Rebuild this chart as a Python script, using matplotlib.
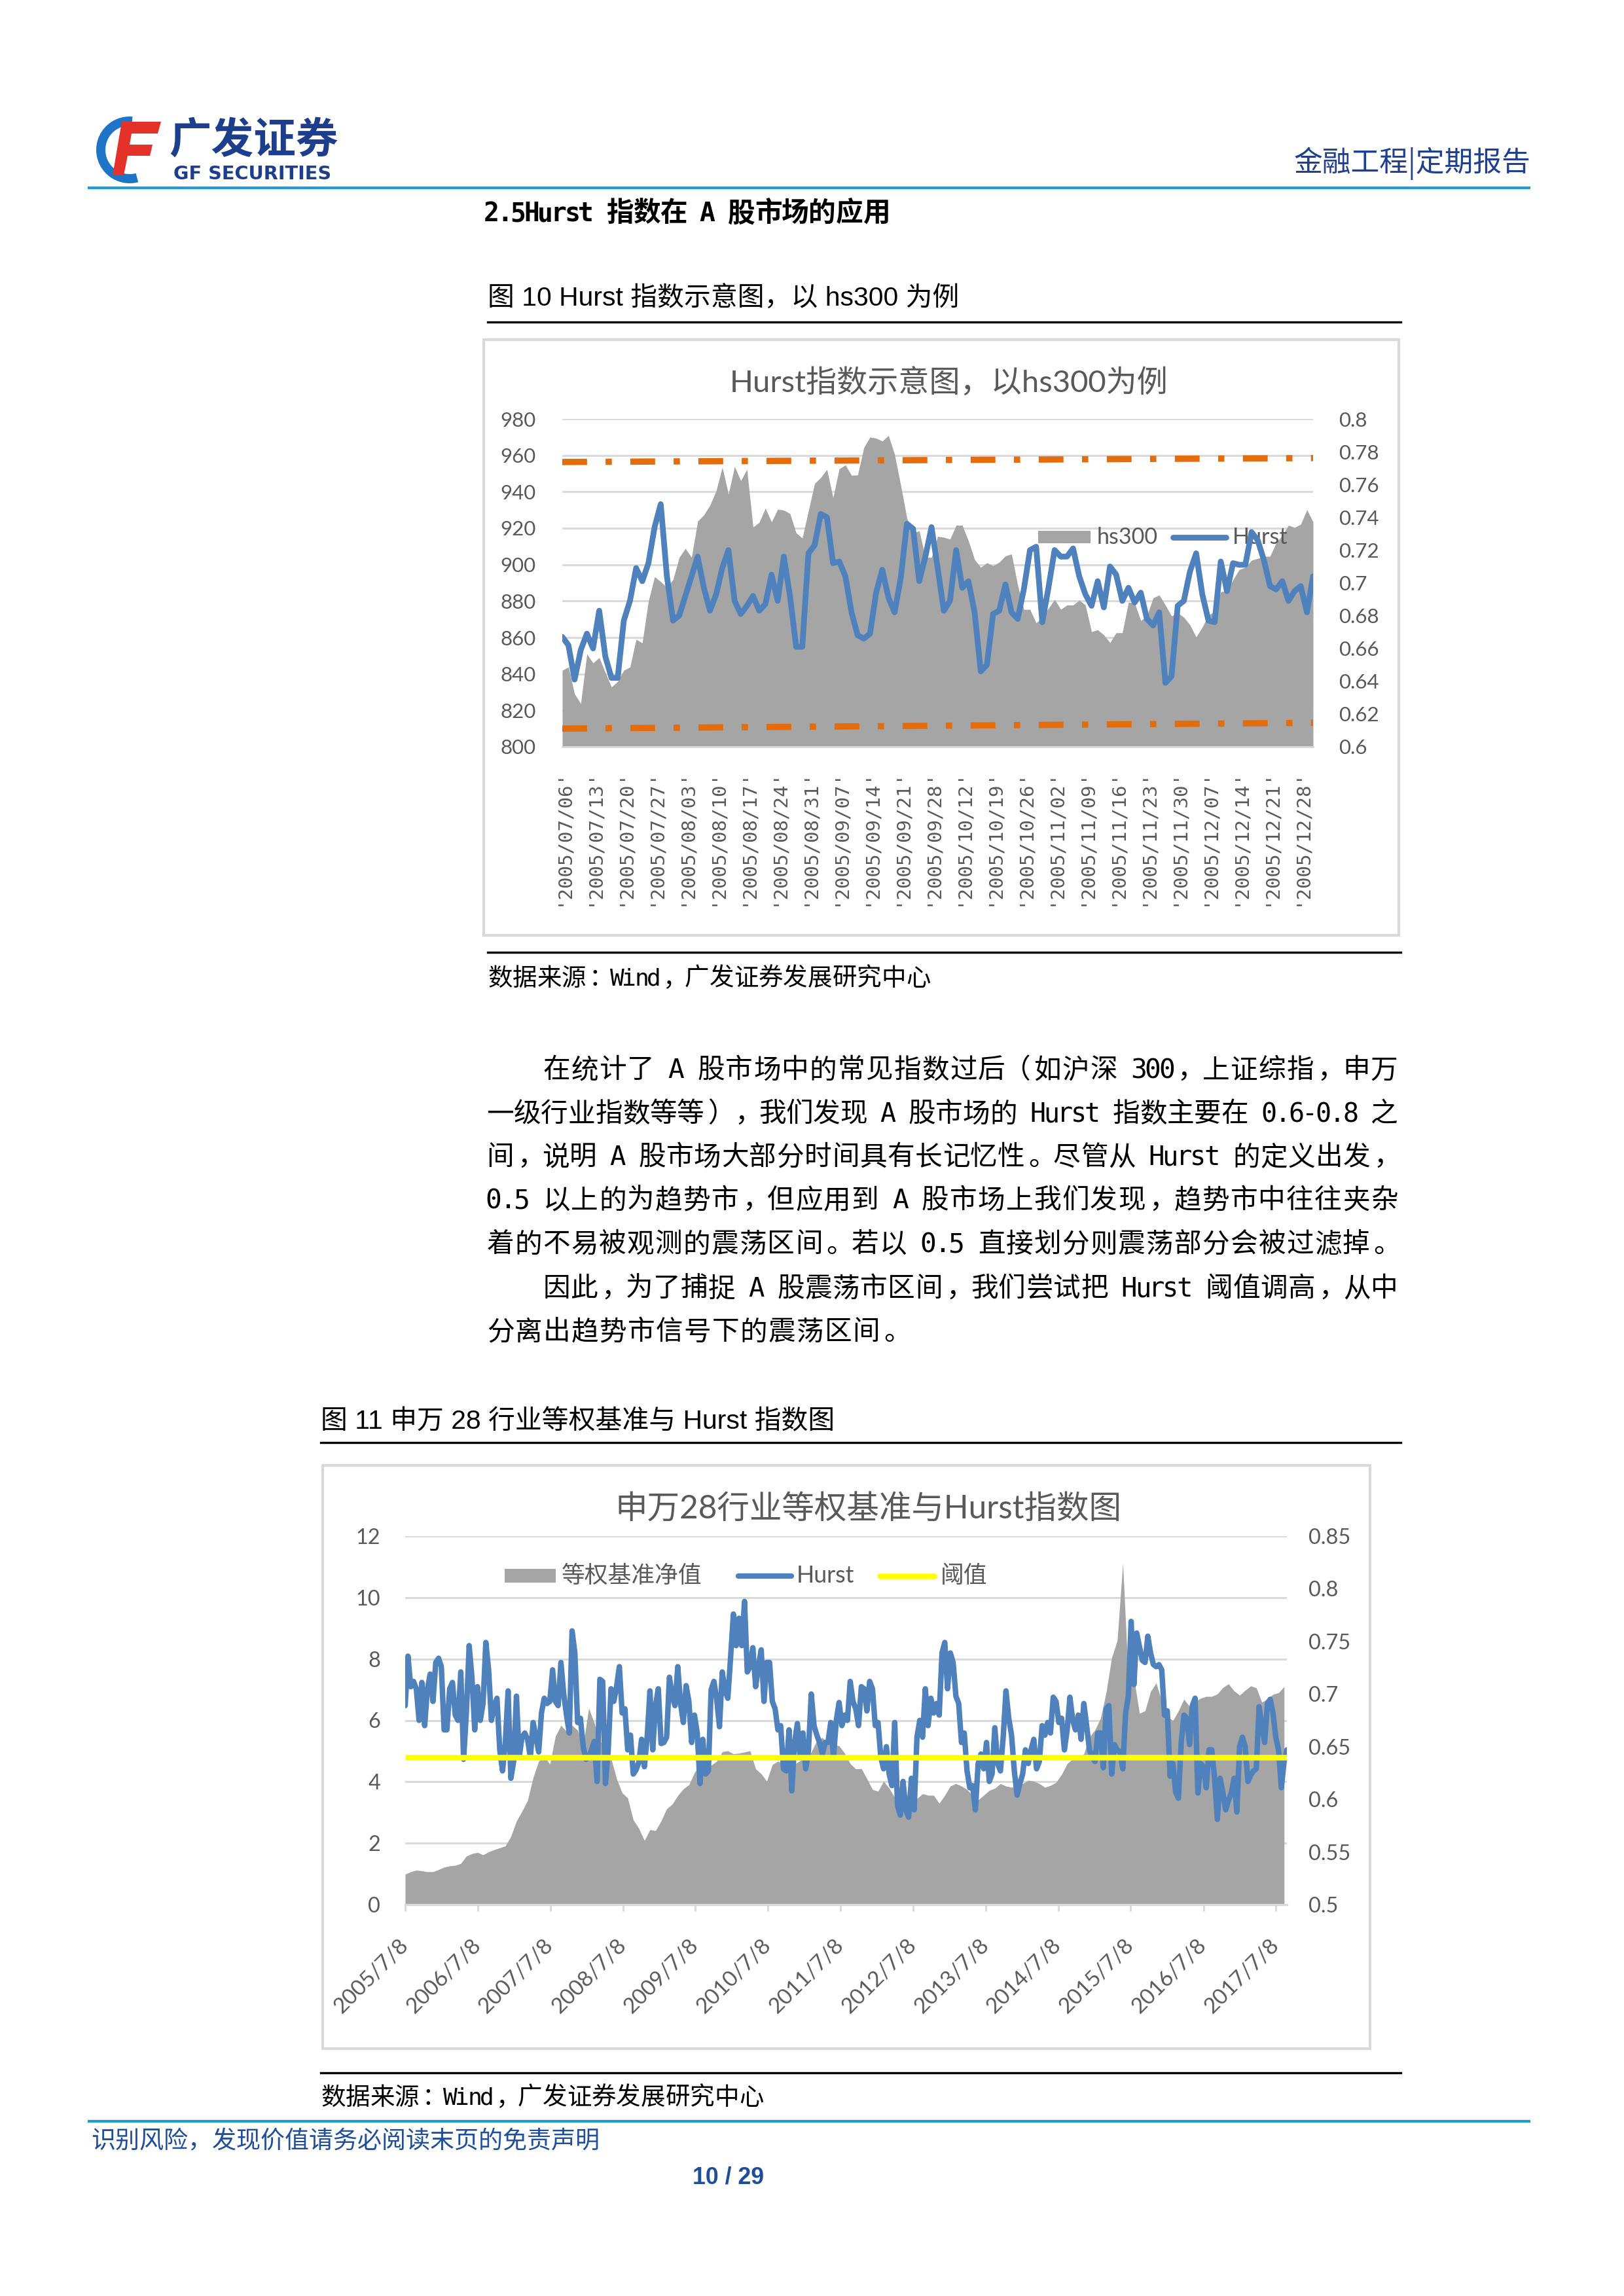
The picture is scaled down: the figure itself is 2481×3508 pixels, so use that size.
import matplotlib
matplotlib.use("Agg")
import matplotlib.pyplot as plt
import numpy as np
import pandas as pd
from matplotlib.lines import Line2D
from matplotlib.patches import Polygon, Rectangle, Wedge

plt.rcParams['font.family'] = ['Lato', 'Noto Sans CJK SC', 'DejaVu Sans']

W, H, DPI = 2481, 3508, 300
CJK = ['Noto Sans CJK SC', 'DejaVu Sans']
MIX = ['Lato', 'Noto Sans CJK SC']
CAP = ['Liberation Sans', 'Noto Sans CJK SC']
MONO = 'DejaVu Sans Mono'
GRAY_TXT = '#595959'
GRID = '#D9D9D9'
AREA = '#A5A5A5'
BLUE = '#4F81BD'
ORANGE = '#E46C0A'
YELLOW = '#FFFF00'
NAVY = '#1F3F8F'
LINE_BLUE = '#1B9BD7'

# ---- figure 10: hs300 daily close and Hurst index, 2005/07/06 - 2005/12/30
hs300 = [842, 843.8, 829, 823.7, 851, 846, 849, 840.7, 832.8, 835.9,
         842, 843.8, 859, 857, 880, 893.4, 890.6, 887.6, 891.8, 904,
         908.9, 904, 923.8, 927.3, 932.6, 940.5, 953.5, 938.7, 953.9, 946,
         952.3, 920.6, 923.2, 931, 923.4, 930.4, 929.9, 928, 917.4, 914.6,
         929.5, 944.5, 947.8, 952.3, 936.8, 952.6, 954.7, 949, 949.2, 964.2,
         970, 969.4, 967.8, 970.9, 960.5, 943.5, 925.5, 917.4, 918.6, 904,
         904, 915.5, 915, 914, 921.6, 921.6, 913, 902.8, 898.5, 901,
         899.4, 901.3, 904.8, 905.8, 888.8, 875.4, 875.4, 868, 871, 876,
         880.9, 875.4, 877.8, 877.8, 880.5, 877.8, 863.2, 864.2, 861.4, 857.2,
         862.6, 862.6, 879.3, 879, 869.3, 871.8, 881.7, 883.3, 877.8, 871.8,
         873.6, 871.1, 866.9, 860.2, 865.7, 872.4, 874.2, 885.1, 885.7, 891.8,
         897.3, 898.5, 902.4, 903.4, 904.4, 904.6, 911.9, 916.1, 921.6, 920.4,
         922.2, 930.1, 923.4]
hurst1 = [0.667, 0.662, 0.641, 0.659, 0.669, 0.660, 0.683, 0.655, 0.642, 0.642,
          0.677, 0.689, 0.709, 0.701, 0.712, 0.734, 0.748, 0.704, 0.677, 0.680,
          0.692, 0.704, 0.716, 0.697, 0.683, 0.693, 0.709, 0.720, 0.689, 0.681,
          0.686, 0.692, 0.683, 0.687, 0.705, 0.689, 0.716, 0.692, 0.661, 0.661,
          0.718, 0.723, 0.742, 0.740, 0.712, 0.713, 0.704, 0.682, 0.668, 0.666,
          0.669, 0.694, 0.708, 0.691, 0.682, 0.703, 0.736, 0.733, 0.701, 0.716,
          0.734, 0.709, 0.683, 0.689, 0.720, 0.697, 0.701, 0.682, 0.646, 0.650,
          0.681, 0.683, 0.699, 0.682, 0.678, 0.696, 0.720, 0.722, 0.676, 0.697,
          0.720, 0.716, 0.716, 0.721, 0.704, 0.693, 0.686, 0.701, 0.685, 0.710,
          0.705, 0.689, 0.697, 0.688, 0.694, 0.678, 0.674, 0.682, 0.639, 0.643,
          0.686, 0.689, 0.707, 0.718, 0.693, 0.677, 0.676, 0.713, 0.695, 0.712,
          0.711, 0.711, 0.731, 0.726, 0.714, 0.698, 0.696, 0.701, 0.689, 0.695,
          0.698, 0.682, 0.704]
upper_band = [0.7737, 0.7761]
lower_band = [0.6111, 0.6146]
date_labels1 = ["'2005/07/06'", "'2005/07/13'", "'2005/07/20'", "'2005/07/27'",
                "'2005/08/03'", "'2005/08/10'", "'2005/08/17'", "'2005/08/24'",
                "'2005/08/31'", "'2005/09/07'", "'2005/09/14'", "'2005/09/21'",
                "'2005/09/28'", "'2005/10/12'", "'2005/10/19'", "'2005/10/26'",
                "'2005/11/02'", "'2005/11/09'", "'2005/11/16'", "'2005/11/23'",
                "'2005/11/30'", "'2005/12/07'", "'2005/12/14'", "'2005/12/21'",
                "'2005/12/28'"]
label_step1 = 5

# ---- figure 11: SW 28 industries equal-weight benchmark and Hurst index
start2 = '2005-07-08'
hurst2 = [0.689, 0.736, 0.707, 0.712, 0.705, 0.675, 0.711, 0.670, 0.705, 0.719,
          0.693, 0.730, 0.734, 0.726, 0.666, 0.666, 0.705, 0.711, 0.680, 0.675,
          0.721, 0.638, 0.682, 0.746, 0.716, 0.666, 0.707, 0.675, 0.691, 0.749,
          0.723, 0.675, 0.689, 0.696, 0.647, 0.627, 0.654, 0.703, 0.620, 0.636,
          0.698, 0.640, 0.659, 0.663, 0.657, 0.640, 0.673, 0.659, 0.645, 0.682,
          0.696, 0.691, 0.693, 0.723, 0.693, 0.689, 0.730, 0.700, 0.680, 0.663,
          0.760, 0.739, 0.673, 0.677, 0.650, 0.638, 0.640, 0.647, 0.655, 0.617,
          0.714, 0.712, 0.615, 0.647, 0.705, 0.693, 0.707, 0.726, 0.682, 0.686,
          0.647,
          0.661, 0.624, 0.628, 0.635, 0.657, 0.631, 0.659, 0.703, 0.647, 0.689,
          0.705, 0.653, 0.654, 0.659, 0.716, 0.698, 0.689, 0.726, 0.691, 0.673,
          0.708, 0.693, 0.654, 0.680, 0.663, 0.615, 0.657, 0.624, 0.627, 0.704,
          0.712, 0.695, 0.669, 0.721, 0.703, 0.696, 0.735, 0.776, 0.746, 0.772,
          0.746, 0.788, 0.721, 0.726, 0.744, 0.707, 0.726, 0.742, 0.693, 0.730,
          0.730, 0.693, 0.686, 0.666, 0.670, 0.629, 0.627, 0.666, 0.608, 0.654,
          0.672, 0.640, 0.663, 0.629, 0.647, 0.700, 0.670, 0.661, 0.654, 0.643,
          0.654, 0.654, 0.673, 0.640, 0.675, 0.692, 0.670, 0.680, 0.675, 0.712,
          0.693, 0.686, 0.670, 0.707, 0.705, 0.684, 0.712, 0.705, 0.670, 0.673,
          0.640, 0.629, 0.650, 0.624, 0.613, 0.673, 0.594, 0.585, 0.617, 0.590,
          0.583, 0.620, 0.590, 0.659, 0.675, 0.659, 0.705, 0.670, 0.696, 0.682,
          0.691, 0.680, 0.739, 0.749, 0.705, 0.739, 0.730, 0.698, 0.691, 0.654,
          0.663, 0.627, 0.611, 0.613, 0.590, 0.634, 0.643, 0.629, 0.654, 0.617,
          0.624, 0.668, 0.634, 0.627, 0.659, 0.703, 0.677, 0.661, 0.627, 0.604,
          0.615, 0.624, 0.647, 0.634, 0.647, 0.657, 0.629, 0.636, 0.670, 0.661,
          0.673, 0.663, 0.697, 0.693, 0.673, 0.677, 0.647, 0.666, 0.697, 0.675,
          0.666, 0.680, 0.657, 0.691, 0.670, 0.647, 0.640, 0.636, 0.663, 0.663,
          0.630, 0.686, 0.689, 0.624, 0.652, 0.647, 0.645, 0.629, 0.682, 0.698,
          0.769, 0.709, 0.758, 0.745, 0.732, 0.730, 0.755, 0.739, 0.728, 0.726,
          0.728, 0.723, 0.680, 0.684, 0.622, 0.634, 0.607, 0.601, 0.654, 0.680,
          0.677, 0.652, 0.689, 0.696, 0.606, 0.634, 0.631, 0.611, 0.647, 0.647,
          0.620, 0.581, 0.620, 0.606, 0.590, 0.599, 0.606, 0.620, 0.588, 0.650,
          0.659, 0.650, 0.617, 0.623, 0.627, 0.629, 0.688, 0.670, 0.654, 0.691,
          0.695, 0.682, 0.659, 0.647, 0.611, 0.636, 0.647]
hurst2_step = '14D'
equity = [0.99, 1.07, 1.12, 1.10, 1.07, 1.07, 1.14, 1.22, 1.26, 1.28,
          1.34, 1.58, 1.66, 1.70, 1.62, 1.72, 1.79, 1.85, 1.91, 2.22,
          2.72, 3.04, 3.39, 4.14, 4.67, 4.85, 4.57, 5.48, 5.84, 5.64,
          5.84, 5.68, 5.21, 6.40, 5.91, 5.32, 5.17, 4.77, 4.10, 3.64,
          3.47, 2.76, 2.48, 2.09, 2.44, 2.41, 2.72, 3.12, 3.27, 3.55,
          3.77, 3.90, 4.30, 4.56, 4.50, 4.54, 4.67, 4.98, 5.01, 4.91,
          4.93, 4.97, 5.01, 4.42, 4.26, 4.02, 4.56, 4.67, 4.59, 4.79,
          4.57, 4.69, 4.83, 4.97, 5.35, 5.44, 5.24, 5.21, 5.17, 4.93,
          4.59, 4.42, 4.43, 4.10, 3.75, 3.69, 4.02, 3.79, 3.49, 3.31,
          3.23, 3.27, 3.45, 3.61, 3.56, 3.56, 3.30, 3.56, 3.86, 3.94,
          3.86, 3.75, 3.55, 3.41, 3.56, 3.72, 3.79, 3.94, 3.86, 3.82,
          3.88, 3.94, 4.05, 4.02, 3.94, 3.82, 3.88, 3.98, 4.24, 4.59,
          4.75, 4.81, 4.91, 5.46, 5.69, 6.07, 6.90, 8.04, 8.60, 11.12,
          7.33, 7.37, 6.23, 6.31, 6.94, 7.22, 6.62, 6.14, 5.99, 6.31,
          6.69, 6.45, 6.62, 6.72, 6.78, 6.78, 6.86, 7.07, 7.19, 6.96,
          6.82, 6.98, 7.12, 7.06, 6.59, 6.70, 6.85, 6.90, 7.10]
equity_step = '28D'
threshold = 0.64
year_labels2 = ['2005/7/8', '2006/7/8', '2007/7/8', '2008/7/8', '2009/7/8',
                '2010/7/8', '2011/7/8', '2012/7/8', '2013/7/8', '2014/7/8',
                '2015/7/8', '2016/7/8', '2017/7/8']

# ---- page text
heading = "2.5Hurst 指数在 A 股市场的应用"
caption1 = "图 10 Hurst 指数示意图，以 hs300 为例"
caption2 = "图 11 申万 28 行业等权基准与 Hurst 指数图"
source = "数据来源：Wind，广发证券发展研究中心"
body = [("在统计了 A 股市场中的常见指数过后（如沪深 300，上证综指，申万", True, True),
        ("一级行业指数等等），我们发现 A 股市场的 Hurst 指数主要在 0.6-0.8 之", False, True),
        ("间，说明 A 股市场大部分时间具有长记忆性。尽管从 Hurst 的定义出发，", False, True),
        ("0.5 以上的为趋势市，但应用到 A 股市场上我们发现，趋势市中往往夹杂", False, True),
        ("着的不易被观测的震荡区间。若以 0.5 直接划分则震荡部分会被过滤掉。", False, True),
        ("因此，为了捕捉 A 股震荡市区间，我们尝试把 Hurst 阈值调高，从中", True, True),
        ("分离出趋势市信号下的震荡区间。", False, False)]


def px_axes(fig, x0, y0, x1, y1, z=1):
    """Axes placed by page pixel box (top-left origin)."""
    ax = fig.add_axes([x0 / W, 1 - y1 / H, (x1 - x0) / W, (y1 - y0) / H], zorder=z)
    ax.patch.set_visible(False)
    return ax


def fmt_num(v):
    return ('%.2f' % v).rstrip('0').rstrip('.')


def draw_cells(page, text, x0, y_mid, size, cell=None, x1=None, weight='normal'):
    """Lay out a line on a character grid (full width CJK, half width ASCII)."""
    units = [0.5 if ord(c) < 128 else 1.0 for c in text]
    if cell is None:
        cell = (x1 - x0) / sum(units)
    base = y_mid + 0.37 * size * DPI / 72
    # monospace ASCII sized so its glyphs fill half a cell
    mono_pt = min(size, 0.5 * cell / 0.52 * 72 / DPI)
    kw = dict(va='baseline', fontsize=size, family=CJK, weight=weight, color='black')
    kw_a = dict(va='baseline', fontsize=mono_pt, family=MONO, weight=weight, color='black')
    x = x0
    for c, u in zip(text, units):
        w = u * cell
        if c == ' ':
            pass
        elif ord(c) < 128:
            page.text(x + w / 2, base, c, ha='center', **kw_a)
        elif c in '，。：、':
            page.text(x + 0.12 * w, base, c, ha='left', **kw)
        elif c == '（':
            page.text(x + 0.88 * w, base, c, ha='right', **kw)
        elif c == '）':
            page.text(x + 0.12 * w, base, c, ha='left', **kw)
        else:
            page.text(x + w / 2, base, c, ha='center', **kw)
        x += w


def draw_header(page):
    # logo
    page.add_patch(Wedge((198, 229), 51, 75, 275, width=14, fc='#1E74C6', ec='none'))
    page.add_patch(Polygon([(186, 186), (246, 186), (241, 204), (201, 204), (198, 221),
                            (233, 221), (229, 238), (195, 238), (189, 268), (172, 268)],
                           closed=True, fc='#E4322B', ec='none'))
    page.text(388, 215, '广发证券', ha='center', va='center', fontsize=15.5,
              weight='bold', family=CJK, color='#1D3E8C')
    page.text(386, 266, 'GF SECURITIES', ha='center', va='center', fontsize=6.9,
              weight='bold', family='DejaVu Sans', color='#1D3E8C')
    page.text(2338, 250, '金融工程|定期报告', ha='right', va='center', fontsize=10.5,
              family=CJK, color=NAVY)
    page.plot([134, 2338], [287, 287], color=LINE_BLUE, lw=1.0, solid_capstyle='butt')

    # footer
    page.plot([134, 2338], [3241, 3241], color=LINE_BLUE, lw=1.0, solid_capstyle='butt')
    page.text(139, 3272, '识别风险，发现价值请务必阅读末页的免责声明', ha='left', va='center',
              fontsize=8.9, family=CJK, color='#1F4E9A')
    page.text(1113, 3327, '10 / 29', ha='center', va='center', fontsize=8.6,
              weight='bold', family='Liberation Sans', color='#1F4E9A')


def draw_text(page):
    draw_cells(page, heading, 740, 323, 10, cell=41.3, weight='bold')
    page.text(745, 456, caption1, ha='left', va='center', fontsize=9.8, family=CAP)
    page.plot([745, 2140], [492, 492], color='black', lw=0.8)
    page.plot([745, 2140], [1455, 1455], color='black', lw=0.8)
    draw_cells(page, source, 745, 1492, 9, cell=37.6)

    ys = [1632, 1699, 1765, 1831, 1898, 1966, 2032]
    for (line, indent, justify), y in zip(body, ys):
        x0 = 829 if indent else 743
        if justify:
            draw_cells(page, line, x0, y, 10, x1=2136)
        else:
            draw_cells(page, line, x0, y, 10, cell=43)

    page.text(490, 2172, caption2, ha='left', va='center', fontsize=9.8, family=CAP)
    page.plot([490, 2140], [2204, 2204], color='black', lw=0.8)
    page.plot([490, 2140], [3167, 3167], color='black', lw=0.8)
    draw_cells(page, source, 490, 3202, 9, cell=37.6)


def style_value_axis(ax, size, pad, ticks, labels):
    ax.set_yticks(ticks)
    ax.set_yticklabels(labels)
    ax.tick_params(axis='y', length=0, pad=pad, labelsize=size, labelcolor=GRAY_TXT)
    for s in ax.spines.values():
        s.set_visible(False)


def draw_chart1(fig, page):
    page.add_patch(Rectangle((739, 519), 2137 - 739, 1429 - 519, fc='white',
                             ec=GRID, lw=1.0))
    page.text(1450, 585, 'Hurst指数示意图，以hs300为例', ha='center', va='center',
              fontsize=11.3, color=GRAY_TXT, family=MIX)

    ax = px_axes(fig, 859, 640, 2006, 1141, z=1)
    x = np.arange(len(hs300))
    ax.fill_between(x, 800, hs300, color=AREA, lw=0, zorder=2)
    ax.set_xlim(0, len(hs300) - 1)
    ax.set_ylim(800, 980)
    left_ticks = np.arange(800, 981, 20)
    style_value_axis(ax, 7.5, 9.6, left_ticks, [str(v) for v in left_ticks])
    ax.grid(axis='y', color=GRID, lw=0.7)
    ax.set_axisbelow(True)
    ax.spines['bottom'].set_visible(True)
    ax.spines['bottom'].set_color(GRID)
    ax.spines['bottom'].set_linewidth(0.7)
    ax.set_xticks(np.arange(0, len(hs300), label_step1)[:len(date_labels1)])
    ax.set_xticklabels(date_labels1, rotation=90, fontfamily=MONO,
                       fontsize=7.0, color=GRAY_TXT)
    ax.tick_params(axis='x', length=0, pad=8.0)

    axr = ax.twinx()
    axr.set_zorder(2)
    axr.patch.set_visible(False)
    axr.plot(x, hurst1, color=BLUE, lw=2.1, solid_joinstyle='round',
             solid_capstyle='round')
    band_x = [x[0], x[-1]]
    axr.plot(band_x, upper_band, color=ORANGE, lw=2.3, dashes=(3.95, 2.95, 1.0, 2.95))
    axr.plot(band_x, lower_band, color=ORANGE, lw=2.3, dashes=(3.95, 2.95, 1.0, 2.95))
    axr.set_ylim(0.6, 0.8)
    right_ticks = np.round(np.arange(0.6, 0.8001, 0.02), 2)
    style_value_axis(axr, 7.5, 9.4, right_ticks, [fmt_num(v) for v in right_ticks])

    # legend (page pixel coordinates)
    tr = page.transData
    ax.add_artist(Rectangle((1586, 811), 80, 19, fc=AREA, lw=0, transform=tr,
                            clip_on=False, zorder=3))
    ax.text(1676, 821, 'hs300', transform=tr, ha='left', va='center', fontsize=8.2,
            color=GRAY_TXT, zorder=3)
    ax.add_artist(Line2D([1792, 1873], [821, 821], color=BLUE, lw=2.1, transform=tr,
                         solid_capstyle='round', clip_on=False, zorder=3))
    ax.text(1883, 821, 'Hurst', transform=tr, ha='left', va='center', fontsize=8.2,
            color=GRAY_TXT, zorder=3)


def draw_chart2(fig, page):
    page.add_patch(Rectangle((493, 2239), 2093 - 493, 3130 - 2239, fc='white',
                             ec=GRID, lw=1.0))
    page.text(1326, 2306, '申万28行业等权基准与Hurst指数图', ha='center', va='center',
              fontsize=11.9, color=GRAY_TXT, family=MIX)

    hurst_dates = pd.date_range(start2, periods=len(hurst2), freq=hurst2_step)
    equity_dates = pd.date_range(start2, periods=len(equity), freq=equity_step)

    ax = px_axes(fig, 619, 2347, 1966, 2910, z=1)
    ax.fill_between(equity_dates, 0, equity, color=AREA, lw=0, zorder=2)
    ax.set_xlim(hurst_dates[0], hurst_dates[-1])
    ax.set_ylim(0, 12)
    left_ticks = np.arange(0, 13, 2)
    style_value_axis(ax, 7.8, 9.1, left_ticks, [str(v) for v in left_ticks])
    ax.grid(axis='y', color=GRID, lw=0.7)
    ax.set_axisbelow(True)
    ax.spines['bottom'].set_visible(True)
    ax.spines['bottom'].set_color(GRID)
    ax.spines['bottom'].set_linewidth(0.8)
    tick_dates = pd.to_datetime(year_labels2, format='%Y/%m/%d')
    ax.set_xticks(tick_dates)
    ax.set_xticklabels(year_labels2)
    ax.tick_params(axis='x', direction='out', length=2.4, width=0.7, color=GRID,
                   pad=11.5, labelsize=8.0, labelcolor=GRAY_TXT)
    plt.setp(ax.get_xticklabels(), rotation=45, ha='right', va='center',
             rotation_mode='anchor')

    axr = ax.twinx()
    axr.set_zorder(2)
    axr.patch.set_visible(False)
    axr.plot(hurst_dates, hurst2, color=BLUE, lw=2.0, solid_joinstyle='round',
             solid_capstyle='round')
    axr.plot([hurst_dates[0], hurst_dates[-1]], [threshold, threshold], color=YELLOW,
             lw=2.05, solid_capstyle='butt')
    axr.set_ylim(0.5, 0.85)
    right_ticks = np.round(np.arange(0.5, 0.8501, 0.05), 2)
    style_value_axis(axr, 7.8, 8.0, right_ticks, [fmt_num(v) for v in right_ticks])

    tr = page.transData
    ax.add_artist(Rectangle((771, 2397), 78, 21, fc=AREA, lw=0, transform=tr,
                            clip_on=False, zorder=3))
    ax.text(858, 2408, '等权基准净值', transform=tr, ha='left', va='center',
            fontsize=8.6, color=GRAY_TXT, family=CJK, zorder=3)
    ax.add_artist(Line2D([1128, 1209], [2408, 2408], color=BLUE, lw=2.0, transform=tr,
                         solid_capstyle='round', clip_on=False, zorder=3))
    ax.text(1217, 2408, 'Hurst', transform=tr, ha='left', va='center', fontsize=8.6,
            color=GRAY_TXT, zorder=3)
    ax.add_artist(Line2D([1344, 1427], [2408, 2408], color=YELLOW, lw=2.05,
                         transform=tr, solid_capstyle='round', clip_on=False, zorder=3))
    ax.text(1437, 2408, '阈值', transform=tr, ha='left', va='center', fontsize=8.6,
            color=GRAY_TXT, family=CJK, zorder=3)


def main():
    fig = plt.figure(figsize=(W / DPI, H / DPI), dpi=DPI)
    page = fig.add_axes([0, 0, 1, 1], zorder=0)
    page.set_xlim(0, W)
    page.set_ylim(H, 0)
    page.axis('off')

    draw_header(page)
    draw_text(page)
    draw_chart1(fig, page)
    draw_chart2(fig, page)

    fig.savefig('out.png', dpi=DPI)


if __name__ == '__main__':
    main()
